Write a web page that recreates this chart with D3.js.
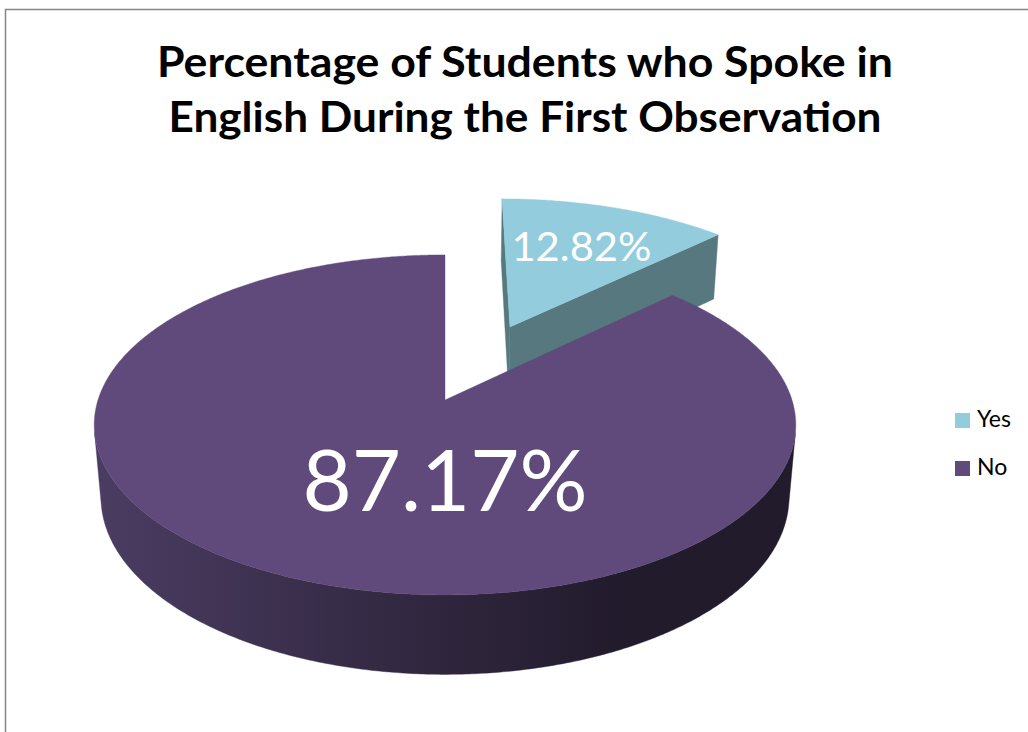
<!DOCTYPE html>
<html><head><meta charset="utf-8">
<script src="https://cdn.jsdelivr.net/npm/d3@7"></script>
<style>body{margin:0;background:#fff}</style>
</head><body>
<svg id="chart" width="1028" height="732"></svg>
<script>
// ---- data ----
const categories = ["Yes", "No"];
const values = [12.82, 87.17];
const labels = ["12.82%", "87.17%"];
const titleLines = ["Percentage of Students who Spoke in", "English During the First Observation"];
const topColors = ["#93cddd", "#5f4a7b"];
const cutColors = ["#56787e", "#4a3b60"];
const wallStops = [["#6e9ca6", "#4a6b72"], ["#4b3c62", "#221b2c"]];
const explode = [0.51, 0];

// ---- layout ----
const W = 1028, H = 732;
const svg = d3.select("#chart");
svg.append("rect").attr("x", 5.5).attr("y", 9.5).attr("width", W).attr("height", H)
  .attr("fill", "#fff").attr("stroke", "#868686").attr("stroke-width", 1.5);

const defs = svg.append("defs");

// title
const titleW = [736, 713];
titleLines.forEach((t, i) => {
  svg.append("text").attr("x", 525).attr("y", 77 + i * 55)
    .attr("text-anchor", "middle").attr("font-family", "Lato, 'Open Sans', sans-serif")
    .attr("font-weight", "bold").attr("font-size", 42).attr("fill", "#000")
    .attr("textLength", titleW[i]).attr("lengthAdjust", "spacingAndGlyphs")
    .text(t);
});

// 3D projection
const cx = 445, cy = 400, S = 347, a = 0.167, th = 28.65 * Math.PI / 180, depth = 0.24;
const ct = Math.cos(th), st = Math.sin(th);
function proj(p) {
  const [x, h, z] = p;
  const yc = h * ct - z * st;
  const d = 1 - a * (z * ct + h * st);
  return [cx + S * x / d, cy - S * yc / d];
}
const cam = [0, st / a, ct / a];
const sub = (u, v) => [u[0] - v[0], u[1] - v[1], u[2] - v[2]];
const dot = (u, v) => u[0] * v[0] + u[1] * v[1] + u[2] * v[2];
const dist = p => Math.hypot(...sub(cam, p));
const centroid = pts => pts.reduce((acc, p) => [acc[0] + p[0] / pts.length, acc[1] + p[1] / pts.length, acc[2] + p[2] / pts.length], [0, 0, 0]);

const line = d3.line().x(d => d[0]).y(d => d[1]);
const poly = pts => line(pts.map(proj)) + "Z";

const pie = d3.pie().sort(null).value(d => d).startAngle(0).endAngle(2 * Math.PI);
const arcs = pie(values);

// wall gradients (screen-space)
arcs.forEach((d, i) => {
  const g = defs.append("linearGradient").attr("id", "wall" + i)
    .attr("gradientUnits", "userSpaceOnUse")
    .attr("x1", cx - S * 1.0).attr("x2", cx + S * 1.0).attr("y1", 0).attr("y2", 0);
  const c0 = wallStops[i][0], c1 = wallStops[i][1];
  const mid = d3.interpolateRgb(c0, c1);
  [[0, 0], [0.4, 0.55], [0.75, 1], [1, 1]].forEach(([o, t]) =>
    g.append("stop").attr("offset", o).attr("stop-color", mid(t)));
});

const step = 0.5 * Math.PI / 180;
const slices = arcs.map((d, i) => {
  const s = d.startAngle, e = d.endAngle, m = (s + e) / 2;
  const ox = explode[i] * Math.sin(m), oz = -explode[i] * Math.cos(m);
  const pt = (phi, r, h) => [ox + r * Math.sin(phi), h, oz - r * Math.cos(phi)];
  const n = Math.max(2, Math.ceil((e - s) / step));
  const angs = d3.range(n + 1).map(k => s + (e - s) * k / n);
  const faces = [];
  let run = [];
  const flush = () => {
    if (run.length > 1) {
      const topPts = run.map(p => pt(p, 1, 0));
      const botPts = run.slice().reverse().map(p => pt(p, 1, -depth));
      const pts = topPts.concat(botPts);
      faces.push({ pts, fill: `url(#wall${i})`, depth: dist(centroid(pts)) });
    }
    run = [];
  };
  for (let k = 0; k < n; k++) {
    const pm = (angs[k] + angs[k + 1]) / 2;
    const nrm = [Math.sin(pm), 0, -Math.cos(pm)];
    const vis = dot(nrm, sub(cam, pt(pm, 1, -depth / 2))) > 0;
    if (vis) { if (run.length === 0) run.push(angs[k]); run.push(angs[k + 1]); }
    else flush();
  }
  flush();
  const cuts = [
    { phi: s, nrm: [-Math.cos(s), 0, -Math.sin(s)] },
    { phi: e, nrm: [Math.cos(e), 0, Math.sin(e)] }
  ];
  if (e - s < 2 * Math.PI - 1e-6) cuts.forEach(c => {
    const pts = [pt(0, 0, 0), pt(c.phi, 1, 0), pt(c.phi, 1, -depth), pt(0, 0, -depth)];
    if (dot(c.nrm, sub(cam, centroid(pts))) > 0)
      faces.push({ pts, fill: cutColors[i], depth: dist(centroid(pts)) });
  });
  faces.sort((A, B) => B.depth - A.depth);
  const topPts = [pt(0, 0, 0)].concat(angs.map(p => pt(p, 1, 0)));
  return { i, faces, topPts, pt, m, depth: dist(pt(m, 0.5, 0)) };
});

slices.sort((A, B) => B.depth - A.depth);
const g = svg.append("g");
slices.forEach(sl => {
  const gs = g.append("g");
  gs.selectAll("path.wall").data(sl.faces).join("path").attr("class", "wall")
    .attr("d", f => poly(f.pts)).attr("fill", f => f.fill)
    .attr("stroke", f => f.fill).attr("stroke-width", 0.4);
  gs.append("path").attr("d", poly(sl.topPts)).attr("fill", topColors[sl.i])
    .attr("stroke", topColors[sl.i]).attr("stroke-width", 0.4);
});

// data labels
const labelSpec = [{ r: 0.65, size: 41.5, w: 140 }, { r: 0.45, size: 86, w: 285 }];
slices.forEach(sl => {
  const spec = labelSpec[sl.i];
  const p = sl.i === 1 ? proj([0, 0, spec.r]) : proj(sl.pt(sl.m, spec.r, 0));
  svg.append("text").attr("x", p[0]).attr("y", p[1]).attr("dy", "0.36em")
    .attr("text-anchor", "middle").attr("font-family", "Lato, 'Open Sans', sans-serif")
    .attr("font-size", spec.size).attr("fill", "#fff")
    .attr("textLength", spec.w).attr("lengthAdjust", "spacingAndGlyphs")
    .text(labels[sl.i]);
});

// legend
const leg = svg.append("g");
categories.forEach((c, i) => {
  leg.append("rect").attr("x", 955).attr("y", 413 + i * 48).attr("width", 15).attr("height", 15)
    .attr("fill", topColors[i]);
  leg.append("text").attr("x", 977).attr("y", 427 + i * 48)
    .attr("font-family", "Lato, 'Open Sans', sans-serif").attr("font-size", 23).attr("fill", "#000")
    .text(c);
});
</script>
</body></html>
